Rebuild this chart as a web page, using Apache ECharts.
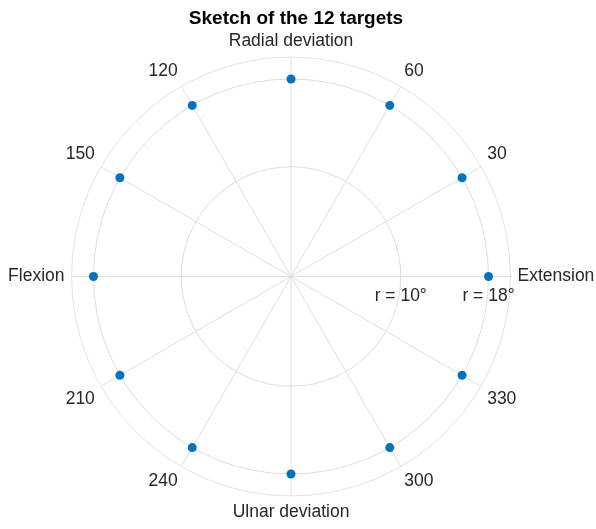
<!DOCTYPE html>
<html>
<head>
<meta charset="utf-8">
<script src="https://cdn.jsdelivr.net/npm/echarts@6/dist/echarts.min.js"></script>
<style>html,body{margin:0;padding:0;background:#fff}#main{width:596px;height:529px}</style>
</head>
<body>
<div id="main"></div>
<script>
const titleText = 'Sketch of the 12 targets';
const targetAngles = [0, 30, 60, 90, 120, 150, 180, 210, 240, 270, 300, 330];
const targetRadius = [18, 18, 18, 18, 18, 18, 18, 18, 18, 18, 18, 18];
const angleTicks = [0, 30, 60, 90, 120, 150, 180, 210, 240, 270, 300, 330];
const angleTickLabels = ['Extension', '30', '60', 'Radial deviation', '120', '150', 'Flexion', '210', '240', 'Ulnar deviation', '300', '330'];
const radiusLabelValues = [10, 18];
const radiusLabelTexts = ['r = 10°', 'r = 18°'];
const radiusCircles = [10, 18];

const FONT = "'Liberation Sans', Arial, sans-serif";
const rMin = 0, rMax = 20, rStep = 2;
const circleColors = [];
for (let v = rMin; v <= rMax; v += rStep) {
  circleColors.push(radiusCircles.indexOf(v) >= 0 ? '#dcdcdc' : 'rgba(0,0,0,0)');
}

const chart = echarts.init(document.getElementById('main'), null, {renderer: 'canvas'});
chart.setOption({
  animation: false,
  title: {
    text: titleText, left: 291, textAlign: 'center', top: 4,
    textStyle: {fontFamily: FONT, fontSize: 19, fontWeight: 'bold', color: '#000'}
  },
  polar: {center: [291, 276.5], radius: 219.5},
  angleAxis: {
    type: 'value', min: 0, max: 360, interval: 30, startAngle: 0, clockwise: false,
    axisLine: {show: true, lineStyle: {color: '#e3e3e3', width: 1}},
    axisTick: {show: false},
    splitLine: {show: true, lineStyle: {color: '#dedede', width: 1}},
    axisLabel: {
      margin: 7, color: '#262626', fontFamily: FONT, fontSize: 17.5,
      formatter: function (v) {
        const i = angleTicks.indexOf(v);
        return i >= 0 ? angleTickLabels[i] : '';
      }
    }
  },
  radiusAxis: {
    type: 'value', min: rMin, max: rMax, interval: rStep,
    axisLine: {show: false}, axisTick: {show: false},
    splitLine: {show: true, lineStyle: {color: circleColors, width: 1}},
    axisLabel: {
      margin: -11, verticalAlign: 'top', color: '#262626', fontFamily: FONT, fontSize: 17.5,
      formatter: function (v) {
        const i = radiusLabelValues.indexOf(v);
        return i >= 0 ? radiusLabelTexts[i] : '';
      }
    }
  },
  series: [{
    type: 'scatter', coordinateSystem: 'polar', symbol: 'circle', symbolSize: 9,
    itemStyle: {color: '#0072BD', opacity: 1},
    data: targetAngles.map((a, i) => [targetRadius[i], a])
  }]
});
</script>
</body>
</html>
